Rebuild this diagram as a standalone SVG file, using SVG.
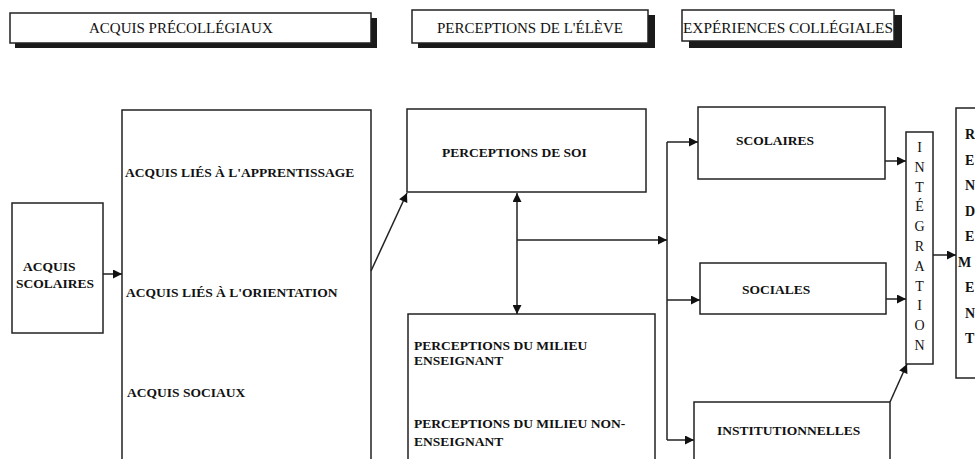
<svg xmlns="http://www.w3.org/2000/svg" width="975" height="459" viewBox="0 0 975 459">
<style>
  .box { fill: #fff; stroke: #222; stroke-width: 1.5; }
  .shadow { fill: #1a1a1a; }
  .hdr { font-family: "Liberation Serif", "Times New Roman", serif; font-size: 15px; fill: #111; }
  .lbl { font-family: "Liberation Serif", "Times New Roman", serif; font-size: 13.5px; font-weight: bold; fill: #111; }
  .rl { font-family: "Liberation Serif", "Times New Roman", serif; font-size: 14px; font-weight: bold; fill: #111; }
  .vert { font-family: "Liberation Serif", "Times New Roman", serif; font-size: 14px; fill: #111; text-anchor: middle; }
  .conn { fill: none; stroke: #222; stroke-width: 1.5; }
</style>
<defs>
  <marker id="ah" viewBox="0 0 10 10" refX="10" refY="5" markerWidth="10" markerHeight="9" markerUnits="userSpaceOnUse" orient="auto-start-reverse">
    <path d="M0,0 L10,5 L0,10 z" fill="#111"/>
  </marker>
</defs>
<rect width="975" height="459" fill="#fff"/>

<g id="hdr-acquis">
  <rect class="shadow" x="15" y="18" width="362" height="30"/>
  <rect class="box" x="10" y="13" width="361" height="30"/>
  <text class="hdr" x="89" y="33">ACQUIS PRÉCOLLÉGIAUX</text>
</g>
<g id="hdr-perceptions">
  <rect class="shadow" x="418" y="15" width="237" height="33"/>
  <rect class="box" x="412" y="10" width="236" height="33"/>
  <text class="hdr" x="530" y="33" text-anchor="middle">PERCEPTIONS DE L'ÉLÈVE</text>
</g>
<g id="hdr-experiences">
  <rect class="shadow" x="689" y="15" width="213" height="33"/>
  <rect class="box" x="682" y="10" width="212" height="31"/>
  <text class="hdr" x="683" y="33" textLength="210" lengthAdjust="spacingAndGlyphs">EXPÉRIENCES COLLÉGIALES</text>
</g>

<g id="acquis-scolaires">
  <rect class="box" x="12" y="203" width="91" height="130"/>
  <text class="lbl" x="23" y="271">ACQUIS</text>
  <text class="lbl" x="16" y="288">SCOLAIRES</text>
</g>

<g id="acquis-precollegiaux">
  <rect class="box" x="122" y="110" width="249" height="360"/>
  <text class="lbl" x="125" y="177">ACQUIS LIÉS À L'APPRENTISSAGE</text>
  <text class="lbl" x="126" y="297">ACQUIS LIÉS À L'ORIENTATION</text>
  <text class="lbl" x="127" y="397">ACQUIS SOCIAUX</text>
</g>

<g id="perceptions-soi">
  <rect class="box" x="407" y="109" width="239" height="83"/>
  <text class="lbl" x="442" y="157">PERCEPTIONS DE SOI</text>
</g>

<g id="perceptions-milieu">
  <rect class="box" x="408" y="314" width="247" height="160"/>
  <text class="lbl" x="414" y="350">PERCEPTIONS DU MILIEU</text>
  <text class="lbl" x="414" y="365">ENSEIGNANT</text>
  <text class="lbl" x="414" y="428">PERCEPTIONS DU MILIEU NON-</text>
  <text class="lbl" x="414" y="446">ENSEIGNANT</text>
</g>

<g id="scolaires">
  <rect class="box" x="698" y="107" width="187" height="72"/>
  <text class="lbl" x="736" y="145">SCOLAIRES</text>
</g>
<g id="sociales">
  <rect class="box" x="700" y="263" width="186" height="51"/>
  <text class="lbl" x="742" y="294">SOCIALES</text>
</g>
<g id="institutionnelles">
  <rect class="box" x="694" y="402" width="196" height="70"/>
  <text class="lbl" x="717" y="435">INSTITUTIONNELLES</text>
</g>

<g id="integration">
  <rect class="box" x="906" y="132" width="27" height="232"/>
  <text class="vert" x="919.5" y="152">I</text>
  <text class="vert" x="919.5" y="171.8">N</text>
  <text class="vert" x="919.5" y="191.6">T</text>
  <text class="vert" x="919.5" y="211.4">É</text>
  <text class="vert" x="919.5" y="231.2">G</text>
  <text class="vert" x="919.5" y="251">R</text>
  <text class="vert" x="919.5" y="270.8">A</text>
  <text class="vert" x="919.5" y="290.6">T</text>
  <text class="vert" x="919.5" y="310.4">I</text>
  <text class="vert" x="919.5" y="330.2">O</text>
  <text class="vert" x="919.5" y="350">N</text>
</g>

<g id="rendement">
  <rect class="box" x="956" y="108" width="40" height="270"/>
  <text class="rl" x="965" y="139">R</text>
  <text class="rl" x="965" y="164.5">E</text>
  <text class="rl" x="965" y="190">N</text>
  <text class="rl" x="965" y="215.5">D</text>
  <text class="rl" x="965" y="241">E</text>
  <text class="rl" x="958" y="266.5">M</text>
  <text class="rl" x="965" y="292">E</text>
  <text class="rl" x="965" y="317.5">N</text>
  <text class="rl" x="965" y="343">T</text>
</g>

<g id="connectors">
  <line class="conn" x1="103" y1="274" x2="122" y2="274" marker-end="url(#ah)"/>
  <line class="conn" x1="371" y1="271" x2="407" y2="193" marker-end="url(#ah)"/>
  <line class="conn" x1="517" y1="193" x2="517" y2="314" marker-start="url(#ah)" marker-end="url(#ah)"/>
  <line class="conn" x1="517" y1="240" x2="667" y2="240" marker-end="url(#ah)"/>
  <line class="conn" x1="667" y1="142" x2="667" y2="440"/>
  <line class="conn" x1="667" y1="142" x2="698" y2="142" marker-end="url(#ah)"/>
  <line class="conn" x1="667" y1="300" x2="700" y2="300" marker-end="url(#ah)"/>
  <line class="conn" x1="667" y1="440" x2="694" y2="440" marker-end="url(#ah)"/>
  <line class="conn" x1="885" y1="161" x2="906" y2="161" marker-end="url(#ah)"/>
  <line class="conn" x1="886" y1="299" x2="906" y2="299" marker-end="url(#ah)"/>
  <line class="conn" x1="890" y1="402" x2="907" y2="364" marker-end="url(#ah)"/>
  <line class="conn" x1="933" y1="255" x2="956" y2="255" marker-end="url(#ah)"/>
</g>
</svg>
